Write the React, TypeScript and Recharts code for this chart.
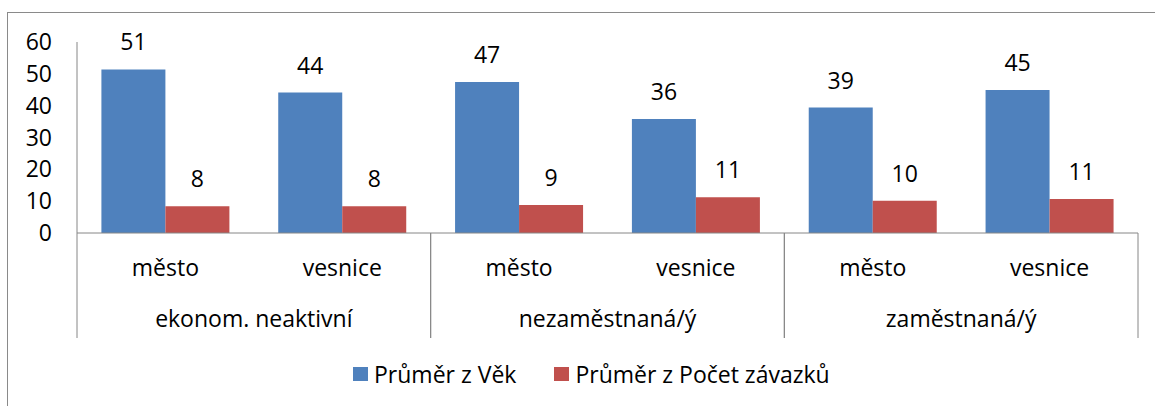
import React from 'react';
import { BarChart, Bar, XAxis, YAxis, LabelList, Legend } from 'recharts';

const subCategories = ['město', 'vesnice', 'město', 'vesnice', 'město', 'vesnice'];
const groups = [
  'ekonom. neaktivní',
  'ekonom. neaktivní',
  'nezaměstnaná/ý',
  'nezaměstnaná/ý',
  'zaměstnaná/ý',
  'zaměstnaná/ý',
];
const vek = [51.4, 44.1, 47.4, 35.8, 39.4, 44.9];
const zavazky = [8.4, 8.4, 8.8, 11.2, 10.1, 10.7];
const yTicks = [0, 10, 20, 30, 40, 50, 60];
const seriesNames = ['Průměr z Věk', 'Průměr z Počet závazků'];

const data = subCategories.map((sub, i) => ({
  sub,
  group: groups[i],
  vek: vek[i],
  zavazky: zavazky[i],
}));

const W = 1155;
const H = 406;
const MARGIN = { top: 42, right: 17, left: 0, bottom: 68 };
const Y_AXIS_W = 77;
const PLOT_W = W - MARGIN.left - MARGIN.right - Y_AXIS_W;
const PLOT_BOTTOM = 233;
const AXIS_BOTTOM = 338;
const GRAY = '#868686';
const FONT = 23;

const SubTick = (props: any) => {
  const { x, payload } = props;
  return (
    <text x={x} y={PLOT_BOTTOM + 43} textAnchor="middle" fontSize={FONT} fill="#000">
      {payload.value}
    </text>
  );
};

const GroupTick = (props: any) => {
  const { x, payload } = props;
  const half = PLOT_W / 6;
  return (
    <g>
      <line x1={x - half} y1={PLOT_BOTTOM} x2={x - half} y2={AXIS_BOTTOM} stroke={GRAY} />
      <line x1={x + half} y1={PLOT_BOTTOM} x2={x + half} y2={AXIS_BOTTOM} stroke={GRAY} />
      <text x={x} y={327} textAnchor="middle" fontSize={FONT} fill="#000">
        {payload.value}
      </text>
    </g>
  );
};

const LegendContent = (props: any) => {
  const items = [...(props.payload || [])].sort(
    (a: any, b: any) => seriesNames.indexOf(a.value) - seriesNames.indexOf(b.value)
  );
  return (
    <div style={{ display: 'flex', alignItems: 'center' }}>
      {items.map((entry: any) => (
        <div
          key={entry.value}
          style={{ display: 'flex', alignItems: 'center', marginRight: 38, lineHeight: '22px' }}
        >
          <span style={{ width: 15, height: 14, background: entry.color, marginRight: 6 }} />
          <span style={{ fontSize: FONT, color: '#000' }}>{entry.value}</span>
        </div>
      ))}
    </div>
  );
};

export default function App() {
  return (
    <div
      style={{
        position: 'absolute',
        left: 0,
        top: 0,
        width: W,
        height: H,
        overflow: 'hidden',
        background: '#fff',
        fontFamily: '"Open Sans", sans-serif',
      }}
    >
      <div
        style={{
          position: 'absolute',
          left: 7,
          top: 12,
          width: W - 7,
          height: H - 12,
          borderLeft: '1px solid #8a8a8a',
          borderTop: '1px solid #8a8a8a',
          boxSizing: 'border-box',
        }}
      />
      <div style={{ position: 'absolute', left: 0, top: 0 }}>
        <BarChart
          width={W}
          height={H}
          data={data}
          margin={MARGIN}
          barCategoryGap="13.8%"
          barGap={0}
        >
          <XAxis
            xAxisId="sub"
            dataKey="sub"
            height={52}
            axisLine={false}
            tickLine={false}
            tick={<SubTick />}
            interval={0}
          />
          <XAxis
            xAxisId="group"
            dataKey="group"
            height={53}
            allowDuplicatedCategory={false}
            axisLine={{ stroke: GRAY }}
            tickLine={false}
            tick={<GroupTick />}
            interval={0}
          />
          <YAxis
            width={Y_AXIS_W}
            domain={[0, 60]}
            ticks={yTicks}
            axisLine={{ stroke: GRAY }}
            tickLine={false}
            tickSize={0}
            tickMargin={25}
            tick={{ fill: '#000', fontSize: FONT }}
          />
          <Legend
            layout="horizontal"
            verticalAlign="middle"
            align="center"
            wrapperStyle={{ left: 353, top: 363, width: 'auto', height: 'auto' }}
            content={<LegendContent />}
          />
          <Bar xAxisId="sub" dataKey="vek" name={seriesNames[0]} fill="#4F81BD" isAnimationActive={false}>
            <LabelList
              dataKey="vek"
              position="top"
              offset={19}
              fill="#000"
              fontSize={FONT}
              formatter={(v: any) => Math.round(Number(v))}
            />
          </Bar>
          <Bar
            xAxisId="sub"
            dataKey="zavazky"
            name={seriesNames[1]}
            fill="#C0504D"
            isAnimationActive={false}
          >
            <LabelList
              dataKey="zavazky"
              position="top"
              offset={19}
              fill="#000"
              fontSize={FONT}
              formatter={(v: any) => Math.round(Number(v))}
            />
          </Bar>
        </BarChart>
      </div>
    </div>
  );
}
